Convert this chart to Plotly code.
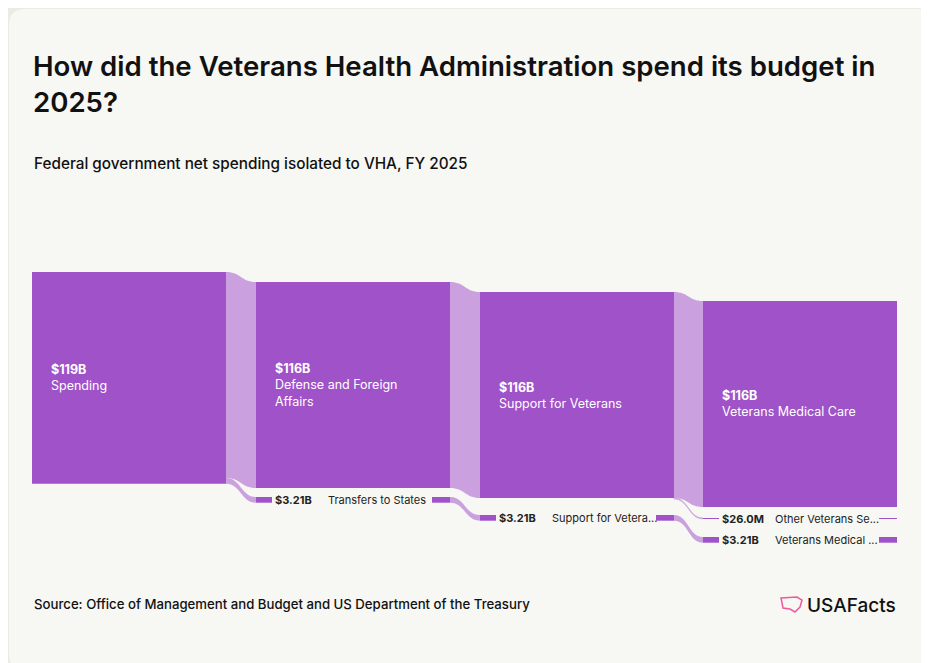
import plotly.graph_objects as go

# ---- data ----
node_names = ["Spending", "Defense and Foreign<br>Affairs", "Transfers to States",
              "Support for Veterans", "Support for Vetera...",
              "Veterans Medical Care", "Other Veterans Se...", "Veterans Medical ..."]
node_labels = ["$119B", "$116B", "$3.21B", "$116B", "$3.21B", "$116B", "$26.0M", "$3.21B"]
node_values = [119.21, 116.0, 3.21, 116.0, 3.21, 115.97, 0.026, 3.21]
node_column = [0, 1, 1, 2, 2, 3, 3, 3]
link_source = [0, 0, 1, 2, 3, 3, 4]
link_target = [1, 2, 3, 4, 5, 6, 7]
link_values = [116.0, 3.21, 116.0, 3.21, 115.97, 0.026, 3.21]

# ---- layout constants (pixels) ----
W, H = 929, 663
OFF = 8  # page body margin
scale = 206 / 116.0
col_x = [32, 256, 480, 703]
col_w = 194
node_top = {0: 272, 1: 282, 2: 497, 3: 292, 4: 515, 5: 301, 6: 518, 7: 537}
big = {0, 1, 3, 5}
NODE = "#a052c8"
LINK = "#caa1de"

shapes = []
annos = []
L, R, T, B = OFF + 1, OFF + W - 1, OFF + 1, OFF + H - 1
rr = 16
shapes.append(dict(type="path", xref="x", yref="y",
                   path=(f"M {L+rr} {T} L {R-rr} {T} Q {R} {T} {R} {T+rr} L {R} {B-rr} Q {R} {B} {R-rr} {B} "
                         f"L {L+rr} {B} Q {L} {B} {L} {B-rr} L {L} {T+rr} Q {L} {T} {L+rr} {T} Z"),
                   fillcolor="#f7f7f3", line=dict(width=0), layer="below"))

def hgt(v):
    return max(v * scale, 1.0)

out_off = {i: 0.0 for i in range(len(node_values))}
in_off = {i: 0.0 for i in range(len(node_values))}
for s, t, v in zip(link_source, link_target, link_values):
    h = hgt(v)
    x0 = col_x[node_column[s]] + col_w
    x1 = col_x[node_column[t]]
    y0 = node_top[s] + out_off[s]
    y1 = node_top[t] + in_off[t]
    out_off[s] += h
    in_off[t] += h
    xm = (x0 + x1) / 2
    p = (f"M {x0} {y0} C {xm} {y0} {xm} {y1} {x1} {y1} L {x1} {y1+h} "
         f"C {xm} {y1+h} {xm} {y0+h} {x0} {y0+h} Z")
    shapes.append(dict(type="path", xref="x", yref="y", path=p, fillcolor=LINK,
                       line=dict(width=0.6 if v < 1 else 0, color=LINK)))

for i, (nm, lb, v) in enumerate(zip(node_names, node_labels, node_values)):
    x = col_x[node_column[i]]
    y = node_top[i]
    h = hgt(v)
    if i in big:
        shapes.append(dict(type="rect", xref="x", yref="y", x0=x, x1=x + col_w, y0=y, y1=y + h,
                           fillcolor=NODE, line=dict(width=0)))
        annos.append(dict(x=x + 17, y=y + h / 2, xref="x", yref="y", xanchor="left", yanchor="middle",
                          align="left", showarrow=False,
                          text=f"<b>{lb}</b><br>{nm}", font=dict(color="white", size=12.5)))
    else:
        shapes.append(dict(type="rect", xref="x", yref="y", x0=x, x1=x + 16, y0=y, y1=y + h,
                           fillcolor=NODE, line=dict(width=0)))
        shapes.append(dict(type="rect", xref="x", yref="y", x0=x + col_w - 18, x1=x + col_w, y0=y, y1=y + h,
                           fillcolor=NODE, line=dict(width=0)))
        annos.append(dict(x=x + 17, y=y + h / 2, xref="x", yref="y", xanchor="left", yanchor="middle",
                          showarrow=False, text=f"<b>{lb}</b>", font=dict(color="#222", size=11)))
        annos.append(dict(x=x + 70, y=y + h / 2, xref="x", yref="y", xanchor="left", yanchor="middle",
                          showarrow=False, text=nm, font=dict(color="#222", size=11)))

annos += [
    dict(x=31, y=84, xref="x", yref="y", xanchor="left", yanchor="middle", showarrow=False, align="left",
         text="How did the Veterans Health Administration spend its budget in<br>2025?",
         font=dict(size=27.6, color="#111", weight=600)),
    dict(x=32, y=163, xref="x", yref="y", xanchor="left", yanchor="middle", showarrow=False,
         text="Federal government net spending isolated to VHA, FY 2025",
         font=dict(size=15.3, color="#111", weight=500)),
    dict(x=32, y=604, xref="x", yref="y", xanchor="left", yanchor="middle", showarrow=False,
         text="Source: Office of Management and Budget and US Department of the Treasury",
         font=dict(size=13.2, color="#111", weight=500)),
    dict(x=898, y=605, xref="x", yref="y", xanchor="right", yanchor="middle", showarrow=False,
         text="USAFacts", font=dict(size=19, color="#111", weight=500)),
]
shapes.append(dict(type="path", xref="x", yref="y",
                   path="M 781 598 L 797 597 L 802 600 L 800 607 L 795 612 L 790 609 L 783 608 Z",
                   fillcolor="rgba(0,0,0,0)", line=dict(color="#ee5a9c", width=1.5)))

fig = go.Figure()
fig.add_trace(go.Scatter(x=[0, W], y=[0, H], mode="markers", marker=dict(opacity=0), hoverinfo="skip"))
fig.update_layout(
    width=W, height=H, margin=dict(l=0, r=0, t=0, b=0),
    paper_bgcolor="#ebebe6", plot_bgcolor="rgba(0,0,0,0)",
    xaxis=dict(range=[OFF, W + OFF], visible=False, fixedrange=True),
    yaxis=dict(range=[H + OFF, OFF], visible=False, fixedrange=True),
    shapes=shapes, annotations=annos, showlegend=False,
    font=dict(family="Inter, Roboto, sans-serif"),
)
fig.write_html("out.html")
